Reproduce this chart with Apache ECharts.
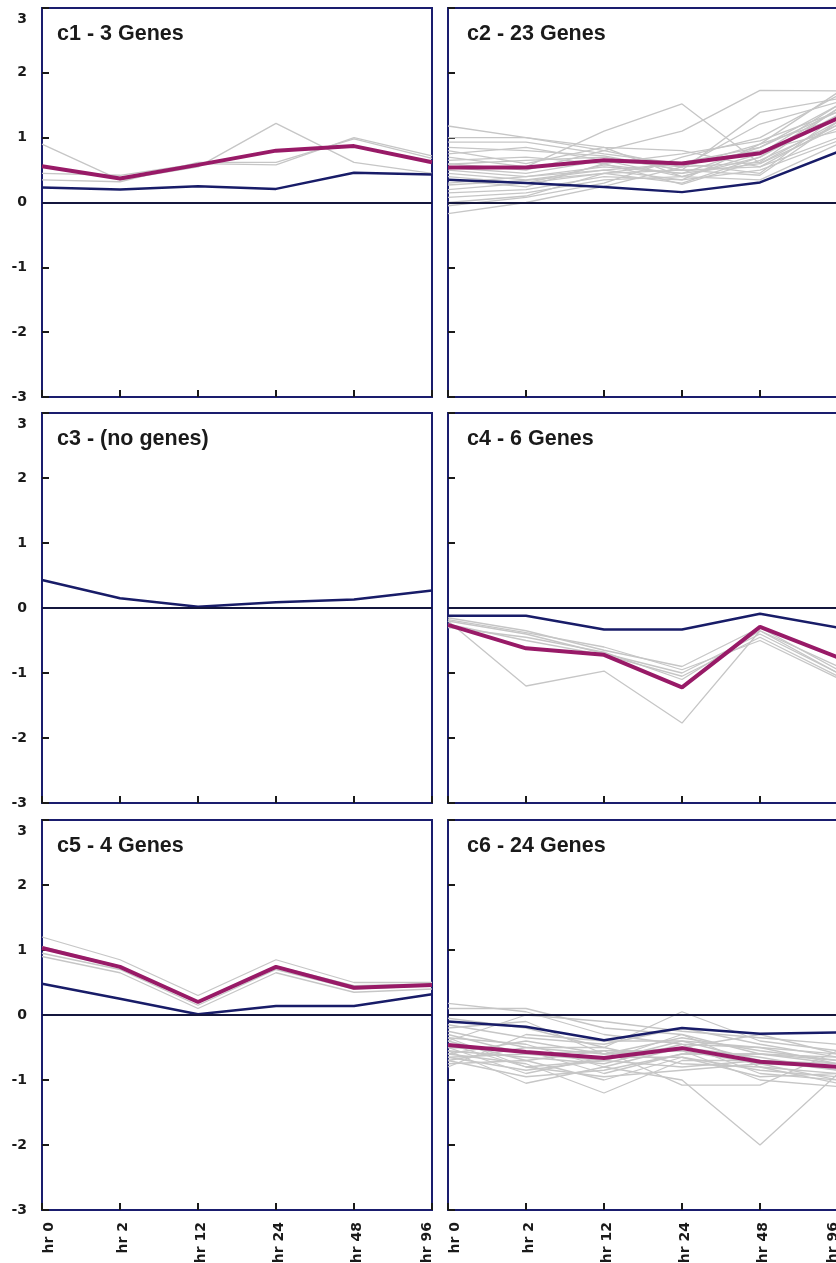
<!DOCTYPE html>
<html>
<head>
<meta charset="utf-8">
<script src="https://cdn.jsdelivr.net/npm/echarts@6/dist/echarts.min.js"></script>
<style>
html,body{margin:0;padding:0;background:#fff;}
#chart{width:836px;height:1263px;}
</style>
</head>
<body>
<div id="chart"></div>
<script>
// ---- data ----
const hours = ['hr 0', 'hr 2', 'hr 12', 'hr 24', 'hr 48', 'hr 96'];
const yMin = -3, yMax = 3, yStep = 1;
const panelTitles = ['c1 - 3 Genes', 'c2 - 23 Genes', 'c3 - (no genes)', 'c4 - 6 Genes', 'c5 - 4 Genes', 'c6 - 24 Genes'];

const c1Genes = [
  [0.90, 0.35, 0.55, 1.22, 0.62, 0.45],
  [0.45, 0.42, 0.60, 0.58, 1.00, 0.72],
  [0.35, 0.32, 0.62, 0.62, 0.98, 0.68]
];
const c1Mean = [0.56, 0.37, 0.58, 0.80, 0.87, 0.62];
const c1Ref = [0.23, 0.20, 0.25, 0.21, 0.46, 0.43];

const c2Genes = [
  [1.18, 1.00, 0.80, 0.55, 0.62, 1.45],
  [1.00, 1.00, 0.85, 0.80, 0.55, 1.20],
  [0.93, 0.93, 0.75, 0.60, 0.45, 1.35],
  [0.85, 0.80, 0.72, 0.50, 0.42, 1.25],
  [0.80, 0.60, 0.85, 0.40, 0.75, 1.50],
  [0.70, 0.55, 1.10, 1.52, 0.60, 1.15],
  [0.60, 0.50, 0.80, 1.10, 1.73, 1.72],
  [0.59, 0.65, 0.70, 0.50, 1.39, 1.60],
  [0.54, 0.45, 0.65, 0.55, 1.21, 1.55],
  [0.50, 0.40, 0.55, 0.45, 0.85, 1.40],
  [0.45, 0.35, 0.50, 0.35, 0.90, 1.30],
  [0.40, 0.30, 0.45, 0.30, 0.70, 1.45],
  [0.35, 0.24, 0.60, 0.28, 0.65, 1.20],
  [0.30, 0.40, 0.50, 0.60, 0.80, 1.10],
  [0.27, 0.34, 0.45, 0.50, 0.55, 1.00],
  [0.20, 0.30, 0.58, 0.45, 0.60, 1.25],
  [0.15, 0.20, 0.40, 0.35, 0.50, 0.95],
  [0.08, 0.15, 0.35, 0.40, 0.70, 1.35],
  [0.00, 0.10, 0.45, 0.62, 0.85, 1.50],
  [-0.05, 0.08, 0.30, 0.70, 1.00, 1.65],
  [-0.17, 0.00, 0.25, 0.55, 0.90, 1.70],
  [0.65, 0.70, 0.60, 0.75, 0.95, 1.40],
  [0.75, 0.85, 0.65, 0.40, 0.35, 0.90]
];
const c2Mean = [0.54, 0.54, 0.65, 0.60, 0.76, 1.30];
const c2Ref = [0.35, 0.30, 0.24, 0.16, 0.31, 0.78];

const c3Genes = [];
const c3Mean = [];
const c3Ref = [0.43, 0.15, 0.02, 0.09, 0.13, 0.27];

const c4Genes = [
  [-0.20, -1.20, -0.97, -1.77, -0.35, -0.90],
  [-0.15, -0.35, -0.65, -0.90, -0.30, -0.95],
  [-0.20, -0.40, -0.70, -1.00, -0.40, -1.00],
  [-0.25, -0.50, -0.72, -1.05, -0.45, -1.05],
  [-0.30, -0.45, -0.68, -1.10, -0.35, -1.00],
  [-0.18, -0.38, -0.60, -0.95, -0.50, -1.08]
];
const c4Mean = [-0.26, -0.62, -0.72, -1.22, -0.29, -0.76];
const c4Ref = [-0.12, -0.12, -0.33, -0.33, -0.09, -0.30];

const c5Genes = [
  [1.20, 0.85, 0.30, 0.85, 0.50, 0.50],
  [1.05, 0.75, 0.20, 0.75, 0.45, 0.48],
  [0.95, 0.70, 0.15, 0.70, 0.40, 0.45],
  [0.90, 0.65, 0.10, 0.65, 0.35, 0.40]
];
const c5Mean = [1.03, 0.74, 0.20, 0.74, 0.42, 0.46];
const c5Ref = [0.48, 0.25, 0.01, 0.14, 0.14, 0.32];

const c6Genes = [
  [0.18, 0.05, -0.30, -0.45, -0.50, -0.60],
  [0.10, 0.10, -0.20, -0.30, -0.60, -0.70],
  [-0.05, -0.20, -0.50, 0.05, -0.40, -0.55],
  [-0.15, -0.35, -0.45, -0.20, -0.45, -0.65],
  [-0.25, -0.50, -0.60, -0.35, -0.55, -0.70],
  [-0.30, -0.60, -0.70, -0.40, -0.70, -0.75],
  [-0.35, -0.45, -0.80, -0.50, -0.65, -0.85],
  [-0.40, -0.70, -0.55, -0.55, -0.75, -0.80],
  [-0.45, -0.80, -0.70, -0.30, -0.80, -0.90],
  [-0.50, -0.55, -0.90, -0.60, -0.60, -0.75],
  [-0.50, -0.90, -0.65, -0.65, -0.85, -0.95],
  [-0.55, -0.65, -0.75, -0.45, -0.90, -1.00],
  [-0.55, -1.05, -0.80, -1.00, -2.00, -0.90],
  [-0.60, -0.75, -1.20, -0.70, -0.70, -0.85],
  [-0.60, -0.40, -0.60, -0.55, -1.00, -1.10],
  [-0.65, -0.85, -0.70, -0.80, -0.70, -0.80],
  [-0.65, -0.60, -0.55, -1.08, -1.08, -0.55],
  [-0.70, -0.95, -0.85, -0.60, -0.60, -0.65],
  [-0.70, -0.50, -0.50, -0.75, -0.80, -1.05],
  [-0.75, -0.70, -1.00, -0.65, -0.95, -0.90],
  [-0.80, -0.30, -0.40, -0.40, -0.50, -0.75],
  [-0.40, 0.00, -0.10, -0.25, -0.35, -0.45],
  [-0.20, -0.10, -0.60, -0.50, -0.30, -0.60],
  [-0.35, -0.80, -0.95, -0.85, -0.75, -1.00]
];
const c6Mean = [-0.46, -0.57, -0.66, -0.51, -0.72, -0.80];
const c6Ref = [-0.10, -0.18, -0.39, -0.20, -0.29, -0.27];

const panelGenes = [c1Genes, c2Genes, c3Genes, c4Genes, c5Genes, c6Genes];
const panelMeans = [c1Mean, c2Mean, c3Mean, c4Mean, c5Mean, c6Mean];
const panelRefs = [c1Ref, c2Ref, c3Ref, c4Ref, c5Ref, c6Ref];

// ---- layout / style ----
const colLeft = [42, 448];
const titleLeft = [57, 467];
const rowTop = [8, 413, 820];
const rowHeight = [389, 390, 390];
const panelWidth = 390;
const NAVY = '#181c68';
const BORDER = '#1a1d6e';
const MAGENTA = '#981a67';
const GRAY = '#c6c6c6';
const INK = '#1a1a1a';
const labelFont = { fontFamily: 'DejaVu Sans', fontWeight: 'bold', fontSize: 14, color: INK };

const grids = [], xAxes = [], yAxes = [], titles = [], series = [];

for (let i = 0; i < 6; i++) {
  const col = i % 2, row = Math.floor(i / 2);
  grids.push({
    left: colLeft[col], top: rowTop[row], width: panelWidth, height: rowHeight[row],
    containLabel: false, outerBoundsMode: 'none',
    show: true, borderColor: BORDER, borderWidth: 2, backgroundColor: 'transparent'
  });
  titles.push({
    text: panelTitles[i], left: titleLeft[col], top: rowTop[row] + 15, padding: 0,
    textStyle: { fontFamily: 'Liberation Sans', fontWeight: 'bold', fontSize: 21.5, color: INK }
  });
  xAxes.push({
    type: 'category', gridIndex: i, data: hours, boundaryGap: false,
    axisLine: { show: false, onZero: false },
    axisTick: { show: true, inside: true, length: 7, alignWithLabel: true, lineStyle: { color: INK, width: 2 } },
    splitLine: { show: false },
    axisLabel: Object.assign({
      show: row === 2, rotate: 90, margin: 12, interval: 0,
      formatter: function (v, idx) {
        const k = idx === 0 ? 'f' : (idx === hours.length - 1 ? 'l' : 'm');
        return '{' + k + '|' + v + '}';
      },
      rich: {
        f: Object.assign({ padding: [14, 0, 0, 0] }, labelFont),
        m: Object.assign({ padding: [6, 0, 0, 0] }, labelFont),
        l: Object.assign({ padding: [0, 0, 10, 0] }, labelFont)
      }
    }, labelFont)
  });
  yAxes.push({
    type: 'value', gridIndex: i, min: yMin, max: yMax, interval: yStep,
    axisLine: { show: false, onZero: false },
    axisTick: { show: true, inside: true, length: 7, lineStyle: { color: INK, width: 2 } },
    splitLine: { show: false },
    axisLabel: Object.assign({
      show: col === 0, margin: 15,
      formatter: function (v) { return v === yMax ? '{t|' + v + '}' : String(v); },
      rich: { t: Object.assign({ padding: [22, 0, 0, 0] }, labelFont) }
    }, labelFont)
  });
  panelGenes[i].forEach(function (g) {
    series.push({
      type: 'line', xAxisIndex: i, yAxisIndex: i, data: g, symbol: 'none', silent: true,
      lineStyle: { color: GRAY, width: 1.3 }, z: 2
    });
  });
  series.push({
    type: 'line', xAxisIndex: i, yAxisIndex: i, data: panelRefs[i], symbol: 'none', silent: true,
    lineStyle: { color: NAVY, width: 2.5 }, z: 4,
    markLine: {
      silent: true, symbol: ['none', 'none'], label: { show: false },
      lineStyle: { color: '#14163e', width: 2, type: 'solid' },
      data: [{ yAxis: 0 }]
    }
  });
  if (panelMeans[i].length) {
    series.push({
      type: 'line', xAxisIndex: i, yAxisIndex: i, data: panelMeans[i], symbol: 'none', silent: true,
      lineStyle: { color: MAGENTA, width: 4 }, z: 5
    });
  }
}

const chart = echarts.init(document.getElementById('chart'), null, { renderer: 'canvas' });
chart.setOption({
  backgroundColor: '#ffffff',
  animation: false,
  title: titles,
  grid: grids,
  xAxis: xAxes,
  yAxis: yAxes,
  series: series
});
</script>
</body>
</html>
